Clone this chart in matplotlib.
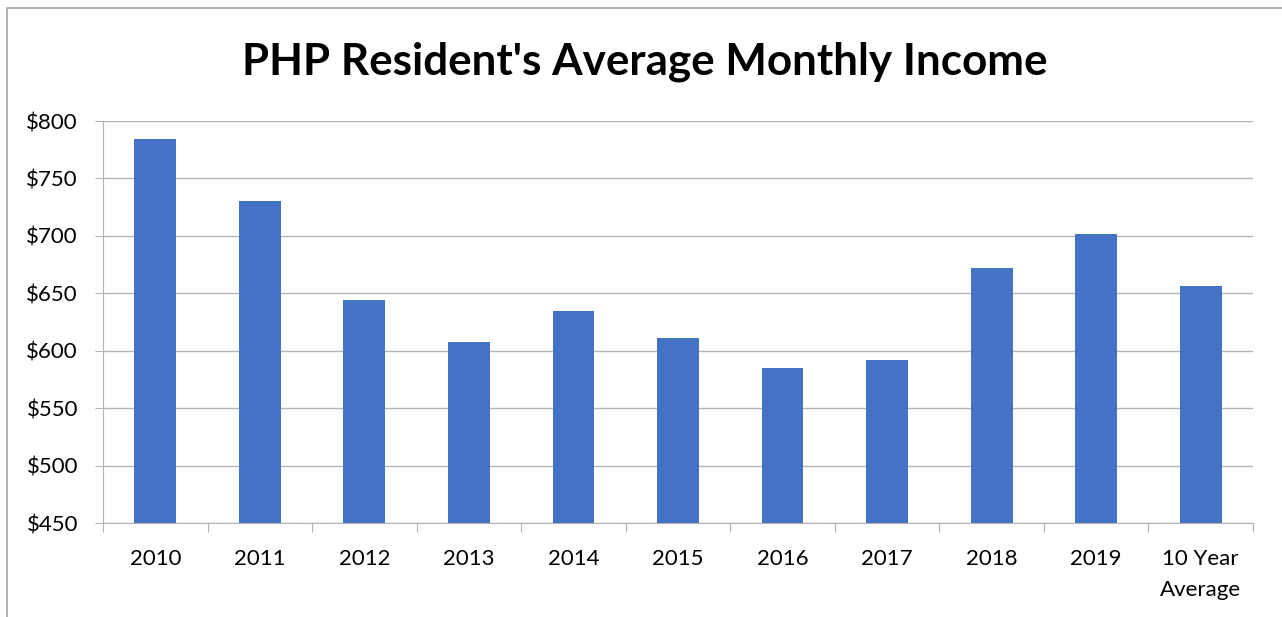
import matplotlib
matplotlib.use('Agg')
import matplotlib.pyplot as plt
from matplotlib.patches import Rectangle

categories = ['2010', '2011', '2012', '2013', '2014', '2015', '2016', '2017', '2018', '2019', '10 Year\nAverage']
income = [784, 730, 644, 608, 635, 611, 585, 592, 672, 702, 656]
yticks = [450, 500, 550, 600, 650, 700, 750, 800]

plt.rcParams['font.family'] = ['Lato', 'DejaVu Sans']

W, H = 1282, 617
fig = plt.figure(figsize=(W / 100, H / 100), dpi=100)
ax = fig.add_axes([103 / W, 1 - 523 / H, (1253 - 103) / W, (523 - 121) / H])

# outer chart border (only top and left visible)
fig.patches.append(Rectangle((6.5 / W, -0.1), 1.2, 1.1 - 8 / H, transform=fig.transFigure,
                             fill=False, edgecolor='#a6a6a6', linewidth=1.2))

x = range(len(categories))
ax.bar(x, income, width=0.4, color='#4472c4', zorder=3)

ax.set_xlim(-0.5, len(categories) - 0.5)
ax.set_ylim(450, 800)
ax.set_yticks(yticks)
ax.set_yticklabels(['$%d' % v for v in yticks], fontsize=16)
ax.grid(axis='y', color='#b3b3b3', linewidth=1, zorder=0)
ax.tick_params(axis='y', length=6, color='#b3b3b3', pad=12)

ax.set_xticks([i - 0.5 for i in range(len(categories) + 1)], minor=False)
ax.set_xticklabels([])
ax.set_xticks(list(x), minor=True)
ax.set_xticklabels(categories, minor=True, fontsize=16, linespacing=1.65)
ax.tick_params(axis='x', which='major', length=6.5, color='#b3b3b3')
ax.tick_params(axis='x', which='minor', length=0, pad=19)

for s in ['top', 'right']:
    ax.spines[s].set_visible(False)
ax.spines['left'].set_color('#b3b3b3')
ax.spines['bottom'].set_color('#b3b3b3')

fig.text(645 / W, 1 - 62 / H, "PHP Resident's Average Monthly Income", ha='center', va='center',
         fontsize=31.7, fontweight='bold')

fig.savefig('out.png', dpi=100)
